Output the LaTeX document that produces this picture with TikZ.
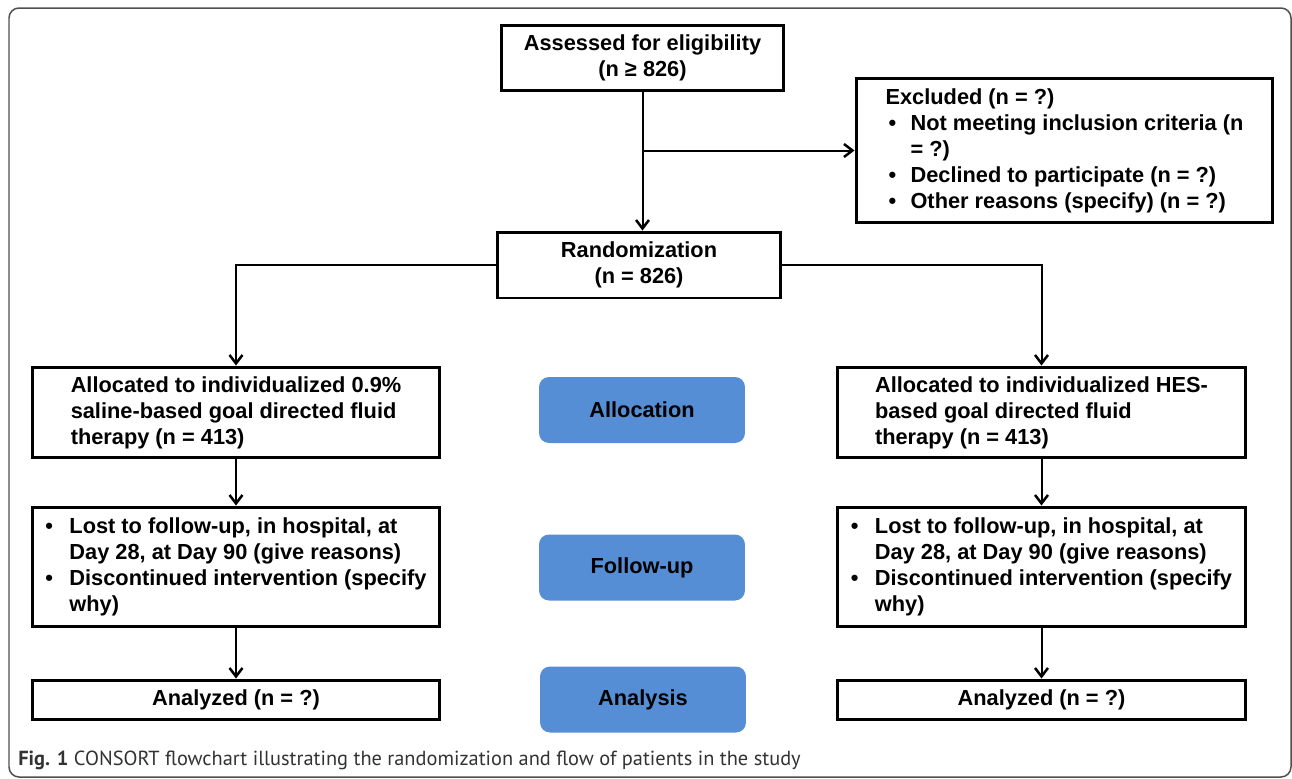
\documentclass[tikz,border=0pt]{standalone}
\usepackage{fontspec}
\setmainfont{Liberation Sans}
\newfontfamily\capfont{PT Sans}
\usetikzlibrary{arrows.meta}
\usetikzlibrary{positioning}
\definecolor{phaseblue}{HTML}{558ED5}
\definecolor{framegray}{HTML}{505050}
\definecolor{captext}{HTML}{333333}
\tikzset{
  flowbox/.style={draw, line width=0.06cm, inner sep=0pt,
    font=\bfseries\fontsize{12.4}{14.8}\selectfont},
  stagebox/.style={fill=phaseblue, rounded corners=0.2cm,
    minimum width=4.12cm, minimum height=1.32cm,
    font=\bfseries\fontsize{12.4}{14.8}\selectfont},
  flowarrow/.style={line width=0.04cm,
    -{Straight Barb[length=0.17cm,width=0.26cm,line width=0.05cm]}}
}
\newcommand{\bul}[1]{\makebox[#1][l]{\textbullet}}

\begin{document}
\begin{tikzpicture}[x=0.02cm,y=-0.02cm]
\useasboundingbox (0,0) rectangle (1292,778);
\draw[framegray, line width=0.03cm, rounded corners=0.2cm] (9,8) rectangle (1291,777);

% enrolment
\node[flowbox, align=center, minimum width=5.66cm, minimum height=1.32cm]
  (assess) at (642.5,58) {Assessed for eligibility\\(n ≥ 826)};
\node[flowbox, align=left, minimum width=8.34cm, minimum height=2.9cm]
  (excl) at (1064.5,150.5)
  {Excluded (n = ?)\\
   \hspace*{0.06cm}\bul{0.44cm}Not meeting inclusion criteria (n\\
   \hspace*{0.5cm}= ?)\\
   \hspace*{0.06cm}\bul{0.44cm}Declined to participate (n = ?)\\
   \hspace*{0.06cm}\bul{0.44cm}Other reasons (specify) (n = ?)};
\node[flowbox, align=center, minimum width=5.68cm, minimum height=1.32cm]
  (rand) at (639,265) {Randomization\\(n = 826)};

% allocation
\node[flowbox, align=left, minimum width=8.16cm, minimum height=1.82cm]
  (allocL) at (236,412.5)
  {Allocated to individualized 0.9\%\\
   saline-based goal directed fluid\\
   therapy (n = 413)};
\node[flowbox, align=left, minimum width=8.16cm, minimum height=1.82cm]
  (allocR) at (1041.5,412.5)
  {Allocated to individualized HES-\\
   based goal directed fluid\\
   therapy (n = 413)\hspace*{2.1cm}};
\node[stagebox] (allocation) at (642,410) {Allocation};

% follow-up
\node[flowbox, align=left, minimum width=8.16cm, minimum height=2.4cm]
  (lostL) at (236,567)
  {\bul{0.48cm}Lost to follow-up, in hospital, at\\
   \hspace*{0.48cm}Day 28, at Day 90 (give reasons)\\
   \bul{0.48cm}Discontinued intervention (specify\\
   \hspace*{0.48cm}why)};
\node[flowbox, align=left, minimum width=8.16cm, minimum height=2.4cm]
  (lostR) at (1041.5,567)
  {\bul{0.48cm}Lost to follow-up, in hospital, at\\
   \hspace*{0.48cm}Day 28, at Day 90 (give reasons)\\
   \bul{0.48cm}Discontinued intervention (specify\\
   \hspace*{0.48cm}why)};
\node[stagebox] (followup) at (642,567.5) {Follow-up};

% analysis
\node[flowbox, align=center, minimum width=8.16cm, minimum height=0.78cm]
  (anaL) at (236,699.5) {Analyzed (n = ?)};
\node[flowbox, align=center, minimum width=8.16cm, minimum height=0.78cm]
  (anaR) at (1041.5,699.5) {Analyzed (n = ?)};
\node[stagebox] (analysis) at (643,699.5) {Analysis};

% connectors
\draw[flowarrow] (assess.south) -- (assess.south |- rand.north);
\coordinate (split) at (assess.south |- excl.west);
\draw[flowarrow] (split) -- (excl.west);
\draw[flowarrow] (rand.west) -| (allocL.north);
\draw[flowarrow] (rand.east) -| (allocR.north);
\draw[flowarrow] (allocL) -- (lostL);
\draw[flowarrow] (allocR) -- (lostR);
\draw[flowarrow] (lostL) -- (anaL);
\draw[flowarrow] (lostR) -- (anaR);

\node[anchor=base west, inner sep=0pt, text=captext,
      font=\capfont\fontsize{11.6}{13}\selectfont] (caption) at (18,765)
  {\textbf{Fig. 1} CONSORT flowchart illustrating the randomization and flow of patients in the study};
\end{tikzpicture}
\end{document}
